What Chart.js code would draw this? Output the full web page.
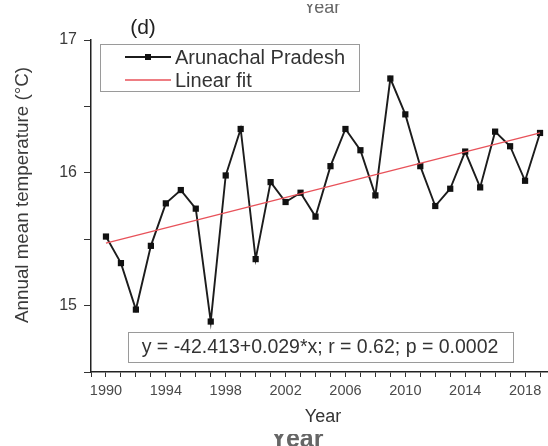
<!DOCTYPE html>
<html>
<head>
<meta charset="utf-8">
<script src="https://cdn.jsdelivr.net/npm/chart.js@4.4.1/dist/chart.umd.min.js"></script>
<style>
  html, body { margin: 0; padding: 0; background: #fff; overflow: hidden; }
  canvas { display: block; }
</style>
</head>
<body>
<canvas id="chart" width="560" height="446"></canvas>
<script>
// Arunachal Pradesh annual mean temperature
const years = [1990, 1991, 1992, 1993, 1994, 1995, 1996, 1997, 1998, 1999,
               2000, 2001, 2002, 2003, 2004, 2005, 2006, 2007, 2008, 2009,
               2010, 2011, 2012, 2013, 2014, 2015, 2016, 2017, 2018, 2019]
const temps = [15.52, 15.32, 14.97, 15.45, 15.77, 15.87, 15.73, 14.88, 15.98, 16.33,
               15.35, 15.93, 15.78, 15.85, 15.67, 16.05, 16.33, 16.17, 15.83, 16.71,
               16.44, 16.05, 15.75, 15.88, 16.16, 15.89, 16.31, 16.20, 15.94, 16.30]

// linear fit as drawn (end points)
const fitYears = [1990, 2019]
const fitTemps = [15.47, 16.30]

const xLabelYears = [1990, 1994, 1998, 2002, 2006, 2010, 2014, 2018]
const yLabelValues = [15, 16, 17]

const seriesName = "Arunachal Pradesh"
const fitName = "Linear fit"
const yTitle = "Annual mean temperature (°C)"
const equationText = "y = -42.413+0.029*x; r = 0.62; p = 0.0002"

const FONT = "'Liberation Sans', Arial, sans-serif"

const toPoints = (xs, ys) => xs.map((x, i) => ({ x: x, y: ys[i] }))

const overlayPlugin = {
    id: 'overlay',
    afterDraw(chart) {
        const ctx = chart.ctx
        const ds = chart.data.datasets
        ctx.save()

        // panel letter
        ctx.fillStyle = '#222'
        ctx.font = '21px ' + FONT
        ctx.textAlign = 'center'
        ctx.textBaseline = 'middle'
        ctx.fillText('(d)', 143, 28)

        // y axis title
        ctx.save()
        ctx.translate(23, 195)
        ctx.rotate(-Math.PI / 2)
        ctx.fillStyle = '#3a3a3a'
        ctx.font = '18.8px ' + FONT
        ctx.fillText(yTitle, 0, 0)
        ctx.restore()

        // leftover title from the panel above (clipped)
        ctx.save()
        ctx.beginPath(); ctx.rect(0, 4, 560, 20); ctx.clip()
        ctx.fillStyle = '#666'
        ctx.font = '18px ' + FONT
        ctx.textBaseline = 'alphabetic'
        ctx.fillText('Year', 322, 13)
        ctx.restore()

        // leftover bigger label below (clipped)
        ctx.save()
        ctx.beginPath(); ctx.rect(0, 434, 560, 20); ctx.clip()
        ctx.fillStyle = '#666'
        ctx.font = 'bold 25px ' + FONT
        ctx.textBaseline = 'alphabetic'
        ctx.fillText('Year', 297, 447)
        ctx.restore()

        // legend box
        ctx.strokeStyle = '#9a9a9a'
        ctx.lineWidth = 1
        ctx.strokeRect(100.5, 44.5, 259, 47)

        ctx.lineWidth = 1.8
        ctx.strokeStyle = ds[0].borderColor
        ctx.beginPath(); ctx.moveTo(125, 57); ctx.lineTo(171, 57); ctx.stroke()
        ctx.fillStyle = ds[0].pointBackgroundColor
        ctx.fillRect(145, 54, 6, 6)

        ctx.lineWidth = 1.3
        ctx.strokeStyle = ds[1].borderColor
        ctx.beginPath(); ctx.moveTo(125, 80); ctx.lineTo(171, 80); ctx.stroke()

        ctx.fillStyle = '#333'
        ctx.font = '20px ' + FONT
        ctx.textAlign = 'left'
        ctx.textBaseline = 'middle'
        ctx.fillText(ds[0].label, 175, 58)
        ctx.fillText(ds[1].label, 175, 81)

        // equation box
        ctx.strokeStyle = '#9a9a9a'
        ctx.lineWidth = 1
        ctx.strokeRect(128.5, 332.5, 385, 30)
        ctx.fillStyle = '#333'
        ctx.font = '19.5px ' + FONT
        ctx.textAlign = 'center'
        ctx.fillText(equationText, 320, 348)

        ctx.restore()
    }
}

new Chart(document.getElementById('chart'), {
    type: 'line',
    data: {
        datasets: [
            {
                label: seriesName,
                data: toPoints(years, temps),
                borderColor: '#1c1c1c',
                borderWidth: 1.9,
                pointStyle: 'rect',
                pointRadius: 4.4,
                pointBackgroundColor: '#111',
                pointBorderWidth: 0,
                tension: 0,
                order: 2
            },
            {
                label: fitName,
                data: toPoints(fitYears, fitTemps),
                borderColor: '#e8525a',
                borderWidth: 1.3,
                pointRadius: 0,
                tension: 0,
                order: 1
            }
        ]
    },
    options: {
        responsive: false,
        animation: false,
        layout: { padding: { top: 40, right: 5, left: 0, bottom: 0 } },
        plugins: {
            legend: { display: false },
            tooltip: { enabled: false }
        },
        scales: {
            x: {
                type: 'linear',
                min: 1989,
                max: 2020,
                afterFit(scale) { scale.height = 74 },
                border: { display: true, color: '#222', width: 1.5 },
                grid: { drawOnChartArea: false, drawTicks: true, tickLength: 5, color: '#333' },
                ticks: {
                    stepSize: 1,
                    autoSkip: false,
                    maxRotation: 0,
                    padding: 5,
                    color: '#4a4a4a',
                    font: { family: FONT, size: 14.5 },
                    callback: v => xLabelYears.includes(v) ? String(v) : ''
                },
                title: {
                    display: true,
                    text: 'Year',
                    color: '#333',
                    font: { family: FONT, size: 18 },
                    padding: { top: 0, bottom: 18 }
                }
            },
            y: {
                min: 14.5,
                max: 17,
                afterFit(scale) { scale.width = 91 },
                border: { display: true, color: '#222', width: 1.5 },
                grid: { drawOnChartArea: false, drawTicks: true, tickLength: 7, color: '#333' },
                ticks: {
                    stepSize: 0.5,
                    padding: 7,
                    color: '#3a3a3a',
                    font: { family: FONT, size: 16 },
                    callback: v => yLabelValues.includes(v) ? String(v) : ''
                }
            }
        }
    },
    plugins: [overlayPlugin]
})
</script>
</body>
</html>
